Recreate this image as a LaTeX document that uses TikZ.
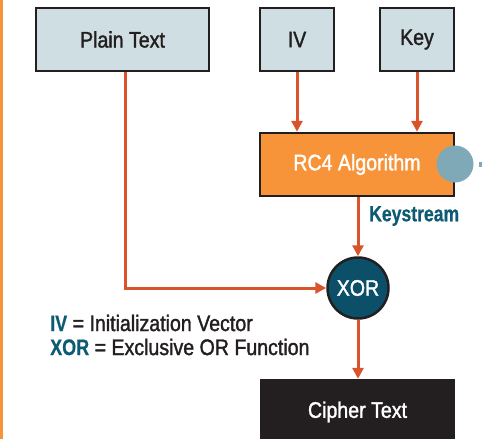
\documentclass[tikz,border=0pt]{standalone}
\usepackage{fontspec}
\setmainfont{Liberation Sans}[FakeStretch=0.87,FakeBold=1.5,BoldFeatures={FakeStretch=0.8,FakeBold=0.5}]
\usetikzlibrary{arrows.meta}
\definecolor{boxfill}{HTML}{CFDEE2}
\definecolor{ink}{HTML}{231F20}
\definecolor{arrowc}{HTML}{D9532B}
\definecolor{orangefill}{HTML}{F7943A}
\definecolor{greyblue}{HTML}{7FA9B6}
\definecolor{teal}{HTML}{0B5068}
\definecolor{tealtext}{HTML}{0D5A73}
\tikzset{
  txt/.style={font=\fontsize{22.5}{26}\selectfont},
  inbox/.style={draw=ink, line width=2.5pt, fill=boxfill, text=ink, minimum height=63pt, inner sep=0pt, txt},
  flow/.style={draw=arrowc, line width=3pt, -{Triangle[length=11pt,width=11pt]}},
  lbl/.style={inner sep=0pt, anchor=west, txt},
}
\begin{document}
\begin{tikzpicture}[x=1pt,y=-1pt]
\useasboundingbox (0,0) rectangle (482,439);
\fill[orangefill] (0,0) rectangle (2.5,439);
\node[inbox, minimum width=173pt] (plain) at (122.5,39.5) {Plain Text};
\node[inbox, minimum width=74pt] (iv) at (297,39.5) {IV};
\node[inbox, minimum width=74pt] (key) at (417,39.5) {Key};
\node[draw=ink, line width=2.5pt, fill=orangefill, text=white, minimum width=194pt, minimum height=63pt, inner sep=0pt, txt] (rc4) at (357,164.5) {RC4 Algorithm};
\node[circle, fill=greyblue, minimum size=37pt, inner sep=0pt] (knob) at (455,164) {};
\fill[greyblue] (479,161.5) rectangle (482,167);
\node[circle, draw=ink, line width=2.5pt, fill=teal, text=white, minimum size=61pt, inner sep=0pt, txt] (xor) at (358,288) {XOR};
\node[fill=ink, text=white, minimum width=195pt, minimum height=66pt, inner sep=0pt, txt] (cipher) at (357.5,412) {Cipher Text};
\node[lbl, text=tealtext, font=\fontsize{22}{26}\selectfont\bfseries] (ks) at (369,216) {Keystream};
\node[lbl, text=ink] (leg1) at (50,323) {\textcolor{tealtext}{\bfseries IV} = Initialization Vector};
\node[lbl, text=ink] (leg2) at (50,347) {\textcolor{tealtext}{\bfseries XOR} = Exclusive OR Function};
\draw[flow] (iv.south) -- (iv.south |- rc4.north);
\draw[flow] (key.south) -- (key.south |- rc4.north);
\draw[flow] (rc4.south -| xor.north) -- (xor.north);
\draw[flow] (xor.south) -- (xor.south |- cipher.north);
\draw[flow] ([xshift=2.5pt]plain.south) |- (xor.west);
\end{tikzpicture}
\end{document}
